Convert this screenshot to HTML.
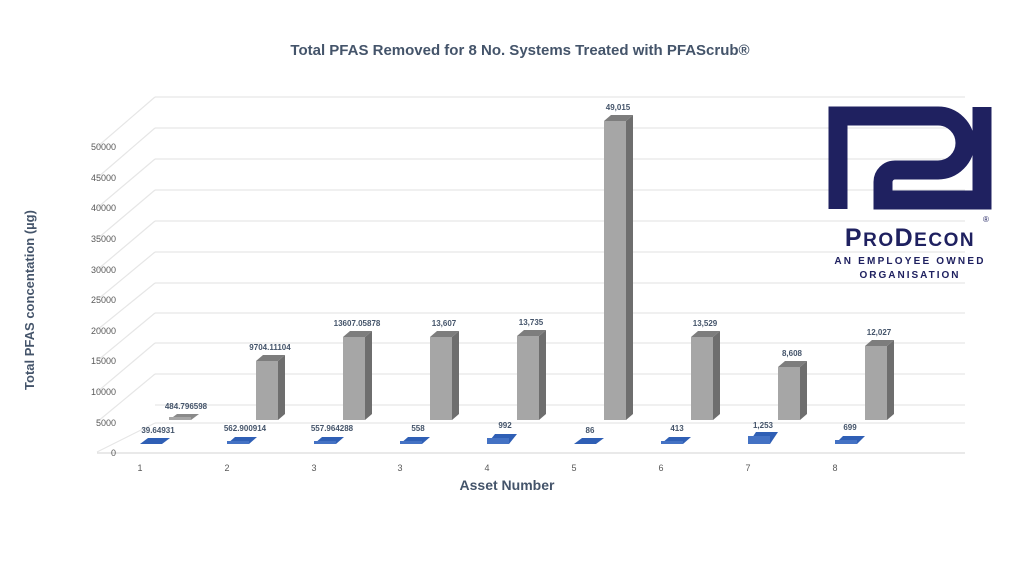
<!DOCTYPE html>
<html><head><meta charset="utf-8"><style>
html,body{margin:0;padding:0;background:#fff;}
svg{display:block;font-family:"Liberation Sans",sans-serif;}
</style></head><body>
<svg width="1024" height="576" viewBox="0 0 1024 576" xmlns="http://www.w3.org/2000/svg">
<rect width="1024" height="576" fill="#fff"/>
<text x="520" y="55" text-anchor="middle" font-size="15" font-weight="bold" fill="#44546a">Total PFAS Removed for 8 No. Systems Treated with PFAScrub®</text>
<g stroke="#e6e6e6" stroke-width="1.2" fill="none">
<path d="M155,97H965M155,128H965M155,159H965M155,190H965M155,221H965M155,252H965M155,283H965M155,313H965M155,343H965M155,374H965M155,405H965M155,423H965"/>
<path d="M155,97L97,147M155,128L97,178M155,159L97,208M155,190L97,239M155,221L97,270M155,252L97,300M155,283L97,330M155,313L97,361M155,343L97,392M155,374L97,422M155,423L97,452"/>
<path d="M97,453H965" stroke="#dcdcdc"/>
</g>
<g font-size="9" fill="#595959" text-anchor="end">
<text x="116" y="150">50000</text><text x="116" y="181">45000</text><text x="116" y="211">40000</text><text x="116" y="242">35000</text><text x="116" y="273">30000</text><text x="116" y="303">25000</text><text x="116" y="334">20000</text><text x="116" y="364">15000</text><text x="116" y="395">10000</text><text x="116" y="426">5000</text><text x="116" y="456">0</text>
</g>
<text transform="translate(34,300) rotate(-90)" text-anchor="middle" font-size="13" font-weight="bold" fill="#44546a">Total PFAS concentation (µg)</text>
<g font-size="9" fill="#595959" text-anchor="middle">
<text x="140" y="471">1</text><text x="227" y="471">2</text><text x="314" y="471">3</text><text x="400" y="471">3</text><text x="487" y="471">4</text><text x="574" y="471">5</text><text x="661" y="471">6</text><text x="748" y="471">7</text><text x="835" y="471">8</text>
</g>
<text x="507" y="490" text-anchor="middle" font-size="14" font-weight="bold" fill="#44546a">Asset Number</text>
<g>
<polygon points="169,420 191,420 199,414 177,414" fill="#8a8a8a"/><polygon points="169,420 191,420 191,417 169,417" fill="#a6a6a6"/>
<g fill="#a6a6a6"><rect x="256" y="361" width="22" height="59"/><rect x="343" y="337" width="22" height="83"/><rect x="430" y="337" width="22" height="83"/><rect x="517" y="336" width="22" height="84"/><rect x="604" y="121" width="22" height="299"/><rect x="691" y="337" width="22" height="83"/><rect x="778" y="367" width="22" height="53"/><rect x="865" y="346" width="22" height="74"/></g>
<g fill="#6e6e6e">
<polygon points="278,361 285,355 285,414 278,420"/><polygon points="365,337 372,331 372,414 365,420"/><polygon points="452,337 459,331 459,414 452,420"/><polygon points="539,336 546,330 546,414 539,420"/><polygon points="626,121 633,115 633,414 626,420"/><polygon points="713,337 720,331 720,414 713,420"/><polygon points="800,367 807,361 807,414 800,420"/><polygon points="887,346 894,340 894,414 887,420"/>
</g>
<g fill="#7d7d7d">
<polygon points="256,361 278,361 285,355 263,355"/><polygon points="343,337 365,337 372,331 350,331"/><polygon points="430,337 452,337 459,331 437,331"/><polygon points="517,336 539,336 546,330 524,330"/><polygon points="604,121 626,121 633,115 611,115"/><polygon points="691,337 713,337 720,331 698,331"/><polygon points="778,367 800,367 807,361 785,361"/><polygon points="865,346 887,346 894,340 872,340"/>
</g>
</g>
<g font-size="8" font-weight="bold" fill="#44546a" text-anchor="middle">
<text x="186" y="409">484.796598</text><text x="270" y="350">9704.11104</text><text x="357" y="326">13607.05878</text><text x="444" y="326">13,607</text><text x="531" y="325">13,735</text><text x="618" y="110">49,015</text><text x="705" y="326">13,529</text><text x="792" y="356">8,608</text><text x="879" y="335">12,027</text>
</g>
<g>
<g fill="#2f5fb5">
<polygon points="140,444 162,444 170,438 148,438"/><polygon points="227,444 249,444 257,437 235,437"/><polygon points="314,444 336,444 344,437 322,437"/><polygon points="400,444 422,444 430,437 408,437"/><polygon points="487,444 509,444 517,434 495,434"/><polygon points="574,444 596,444 604,438 582,438"/><polygon points="661,444 683,444 691,437 669,437"/><polygon points="748,444 770,444 778,432 756,432"/><polygon points="835,444 857,444 865,436 843,436"/>
</g>
<g fill="#4472c4">
<rect x="227" y="441" width="22" height="3"/><rect x="314" y="441" width="22" height="3"/><rect x="400" y="441" width="22" height="3"/><rect x="487" y="438" width="22" height="6"/><rect x="661" y="441" width="22" height="3"/><rect x="748" y="436" width="22" height="8"/><rect x="835" y="440" width="22" height="4"/>
</g>
</g>
<g font-size="8" font-weight="bold" fill="#44546a" text-anchor="middle">
<text x="158" y="433">39.64931</text><text x="245" y="431">562.900914</text><text x="332" y="431">557.964288</text><text x="418" y="431">558</text><text x="505" y="428">992</text><text x="590" y="433">86</text><text x="677" y="431">413</text><text x="763" y="428">1,253</text><text x="850" y="430">699</text>
</g>
<path d="M838,209 V116 H938 a27,27 0 0 1 0,54 H895 a12,12 0 0 0 -12,12 V200 H982 V107" fill="none" stroke="#1f2160" stroke-width="19"/>
<text x="986" y="222" font-size="8" fill="#1f2160" text-anchor="middle">®</text>
<text x="910" y="246" text-anchor="middle" font-size="25" font-weight="bold" fill="#1f2160" letter-spacing="1.5">P<tspan font-size="19">RO</tspan>D<tspan font-size="19">ECON</tspan></text>
<text x="910" y="264" text-anchor="middle" font-size="10" font-weight="bold" fill="#1f2160" letter-spacing="2.2">AN EMPLOYEE OWNED</text>
<text x="910" y="278" text-anchor="middle" font-size="10" font-weight="bold" fill="#1f2160" letter-spacing="2">ORGANISATION</text>
</svg>
</body></html>
